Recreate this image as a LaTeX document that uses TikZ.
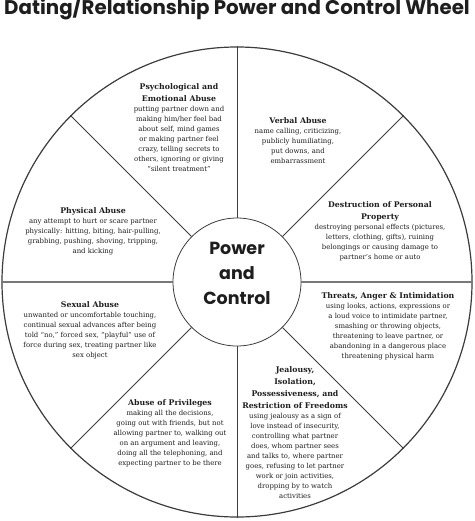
\documentclass[tikz,border=0pt]{standalone}
\usepackage{fontspec}
\setmainfont{DejaVu Serif}
\newfontfamily\wheelfont{Poppins}
\usepackage{tikz}
\usetikzlibrary{positioning}
\definecolor{inkgray}{RGB}{30, 30, 30}
\definecolor{rimgray}{RGB}{60, 60, 60}
\definecolor{barsgray}{RGB}{120, 120, 120}
\newcommand{\wedgehead}[1]{{\bfseries\fontsize{7.8}{12.5}\selectfont #1}}

\begin{document}
\begin{tikzpicture}[x=1pt, y=-1pt,
          wedgetext/.style={align=center, inner sep=0pt, anchor=north, text=inkgray, font=\fontsize{6.9}{10}\selectfont},
          spokeline/.style={rimgray, line width=0.8pt},
          barline/.style={barsgray, line width=2pt}
        ]
          \useasboundingbox (0,0) rectangle (474,521);
          \node[anchor=base, inner sep=0pt, text=inkgray, font=\wheelfont\bfseries\fontsize{19.8}{22}\selectfont] (title) at (237, 15) {Dating/Relationship Power and Control Wheel};

          \node[draw=rimgray, line width=1.2pt, circle, minimum size=470pt, inner sep=0pt] (rim) at (237, 282) {};
          \node[draw=rimgray, line width=0.8pt, circle, minimum size=128pt, inner sep=0pt] (hub) at (237, 282) {};
          \node[align=center, inner sep=0pt, font=\wheelfont\bfseries\fontsize{17.5}{25}\selectfont, text=inkgray] (hubtext) at (237, 273) {Power\\and\\Control};

          \draw[spokeline] (hub.90) -- (rim.90);
          \draw[spokeline] (hub.45) -- (rim.45);
          \draw[barline] (hub.0) -- (rim.0);
          \draw[spokeline] (hub.-45) -- (rim.-45);
          \draw[spokeline] (hub.-90) -- (rim.-90);
          \draw[spokeline] (hub.-135) -- (rim.-135);
          \draw[barline] (hub.180) -- (rim.180);
          \draw[spokeline] (hub.135) -- (rim.135);

          % wedges, clockwise from the top
          \node[wedgetext] (verbal) at (298, 117) {\wedgehead{Verbal Abuse}\\name calling, criticizing,\\publicly humiliating,\\put downs, and\\embarrassment};
          \node[wedgetext] (property) at (380, 201) {\wedgehead{Destruction of Personal}\\[2pt]\wedgehead{Property}\\destroying personal effects (pictures,\\letters, clothing, gifts), ruining\\belongings or causing damage to\\partner’s home or auto};
          \node[wedgetext] (threats) at (388, 292) {\wedgehead{Threats, Anger \& Intimidation}\\using looks, actions, expressions or\\a loud voice to intimidate partner,\\smashing or throwing objects,\\threatening to leave partner, or\\abandoning in a dangerous place\\threatening physical harm};
          \node[wedgetext] (jealousy) at (295, 366) {\wedgehead{Jealousy,}\\[2pt]\wedgehead{Isolation,}\\[2pt]\wedgehead{Possessiveness, and}\\[2pt]\wedgehead{Restriction of Freedoms}\\using jealousy as a sign of\\love instead of insecurity,\\controlling what partner\\does, whom partner sees\\and talks to, where partner\\goes, refusing to let partner\\work or join activities,\\dropping by to watch\\activities};
          \node[wedgetext] (privileges) at (170, 399) {\wedgehead{Abuse of Privileges}\\making all the decisions,\\going out with friends, but not\\allowing partner to, walking out\\on an argument and leaving,\\doing all the telephoning, and\\expecting partner to be there};
          \node[wedgetext] (sexual) at (90, 301) {\wedgehead{Sexual Abuse}\\unwanted or uncomfortable touching,\\continual sexual advances after being\\told “no,” forced sex, “playful” use of\\force during sex, treating partner like\\sex object};
          \node[wedgetext] (physical) at (93, 207) {\wedgehead{Physical Abuse}\\any attempt to hurt or scare partner\\physically: hitting, biting, hair-pulling,\\grabbing, pushing, shoving, tripping,\\and kicking};
          \node[wedgetext] (emotional) at (179, 83) {\wedgehead{Psychological and}\\[2pt]\wedgehead{Emotional Abuse}\\putting partner down and\\making him/her feel bad\\about self, mind games\\or making partner feel\\crazy, telling secrets to\\others, ignoring or giving\\“silent treatment”};
        \end{tikzpicture}
\end{document}
